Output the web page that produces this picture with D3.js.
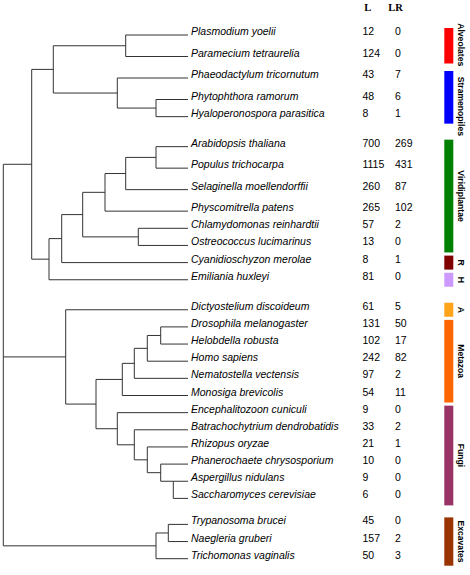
<!DOCTYPE html>
<html><head><meta charset="utf-8">
<script src="https://cdn.jsdelivr.net/npm/d3@7"></script>
<style>body{margin:0;background:#fff}svg{display:block}</style>
</head><body>
<svg id="chart" width="470" height="575"></svg>
<script>
// ---- data ----
const species = ["Plasmodium yoelii","Paramecium tetraurelia","Phaeodactylum tricornutum","Phytophthora ramorum","Hyaloperonospora parasitica","Arabidopsis thaliana","Populus trichocarpa","Selaginella moellendorffii","Physcomitrella patens","Chlamydomonas reinhardtii","Ostreococcus lucimarinus","Cyanidioschyzon merolae","Emiliania huxleyi","Dictyostelium discoideum","Drosophila melanogaster","Helobdella robusta","Homo sapiens","Nematostella vectensis","Monosiga brevicolis","Encephalitozoon cuniculi","Batrachochytrium dendrobatidis","Rhizopus oryzae","Phanerochaete chrysosporium","Aspergillus nidulans","Saccharomyces cerevisiae","Trypanosoma brucei","Naegleria gruberi","Trichomonas vaginalis"];
const countL  = [12,124,43,48,8,700,1115,260,265,57,13,8,81,61,131,102,242,97,54,9,33,21,10,9,6,45,157,50];
const countLR = [0,0,7,6,1,269,431,87,102,2,0,1,0,5,50,17,82,2,11,0,2,1,0,0,0,0,2,3];
const columnHeaders = ["L","LR"];

// tree: node ids, parents, branch lengths (leaves extend to aligned tips)
const nodeIds = ["R","A","B","Alv","Plasmodium yoelii","Paramecium tetraurelia","Stram","Phaeodactylum tricornutum","PH","Phytophthora ramorum","Hyaloperonospora parasitica","C","D","V","L1","L2","L3","Arabidopsis thaliana","Populus trichocarpa","Selaginella moellendorffii","Physcomitrella patens","Ch","Chlamydomonas reinhardtii","Ostreococcus lucimarinus","Cyanidioschyzon merolae","Emiliania huxleyi","Am","Dictyostelium discoideum","O","M1","M2","M3","M4","Drosophila melanogaster","Helobdella robusta","Homo sapiens","Nematostella vectensis","Monosiga brevicolis","F1","Encephalitozoon cuniculi","F2","Batrachochytrium dendrobatidis","F3","Rhizopus oryzae","F4","Phanerochaete chrysosporium","F5","Aspergillus nidulans","Saccharomyces cerevisiae","Ex","Ex2","Trypanosoma brucei","Naegleria gruberi","Trichomonas vaginalis"];
const nodeParents = ["","R","A","B","Alv","Alv","B","Stram","Stram","PH","PH","A","C","D","V","L1","L2","L3","L3","L2","L1","V","Ch","Ch","D","C","R","Am","Am","O","M1","M2","M3","M4","M4","M3","M2","M1","O","F1","F1","F2","F2","F3","F3","F4","F4","F5","F5","R","Ex","Ex2","Ex2","Ex"];
const branchLengths = [0,28.4,21.6,72.4,0,0,64,0,38.7,0,0,17.3,12.7,21,22.3,20.7,30.3,0,0,0,0,55.6,0,0,0,0,62.4,0,30.3,26.3,12,13,13.4,0,0,0,0,0,21.3,0,17,0,13,0,13.4,0,12.6,0,0,152.7,12.3,0,0,0];
const tipDepth = 184.7;

// clades
const groupNames = ["Alveolates","Stramenopiles","Viridiplantae","R","H","A","Metazoa","Fungi","Excavates"];
const groupFirst = ["Plasmodium yoelii","Phaeodactylum tricornutum","Arabidopsis thaliana","Cyanidioschyzon merolae","Emiliania huxleyi","Dictyostelium discoideum","Drosophila melanogaster","Encephalitozoon cuniculi","Trypanosoma brucei"];
const groupLast  = ["Paramecium tetraurelia","Hyaloperonospora parasitica","Ostreococcus lucimarinus","Cyanidioschyzon merolae","Emiliania huxleyi","Dictyostelium discoideum","Monosiga brevicolis","Saccharomyces cerevisiae","Trichomonas vaginalis"];
const groupColors = ["#ff0000","#0000ff","#008000","#800000","#cc99ff","#ffa31a","#ff6600","#993366","#993300"];

// ---- layout ----
const svg = d3.select("#chart");
const sans = "'Liberation Sans', Arial, sans-serif";
const stroke = "#333";

// row positions (layout spacing)
const rowStart = 35, rowStep = 17.15;
const specialSpacing = {1:21.5,2:21.5,3:21.5,5:30,6:21.5,7:21.5,8:21.5,13:30,25:26};
const rowY = [];
species.forEach((s,i)=>{ rowY.push(i===0 ? rowStart : rowY[i-1] + (specialSpacing[i] || rowStep)); });
const yOf = name => rowY[species.indexOf(name)];

const x = d3.scaleLinear().domain([0, tipDepth]).range([3.3, 188]);

const table = nodeIds.map((id,i)=>({id, parent: nodeParents[i] || null, len: branchLengths[i]}));
const root = d3.stratify().id(d=>d.id).parentId(d=>d.parent)(table);
root.eachBefore(n => { n.dep = n.parent ? n.parent.dep + n.data.len : 0; });
const anchoredFirst = new Set(["F5"]);
root.eachAfter(n => {
  if (n.children) {
    const f = n.children[0], l = n.children[n.children.length-1];
    n.y = anchoredFirst.has(n.id) ? f.y : (f.y + l.y) / 2;
    n.x = x(n.dep);
  } else {
    n.y = yOf(n.id);
    n.x = x(tipDepth);
  }
});

const g = svg.append("g");
g.selectAll("path.h").data(root.descendants().filter(n=>n.parent))
  .join("path").attr("class","h")
  .attr("d", n => `M${n.parent.x},${n.y}H${n.x}`)
  .attr("fill","none").attr("stroke",stroke).attr("stroke-width",1);
g.selectAll("path.v").data(root.descendants().filter(n=>n.children))
  .join("path").attr("class","v")
  .attr("d", n => `M${n.x},${n.children[0].y}V${n.children[n.children.length-1].y}`)
  .attr("fill","none").attr("stroke",stroke).attr("stroke-width",1);

// leaf labels
svg.append("g").selectAll("text").data(species).join("text")
  .attr("x", x(tipDepth) + 3).attr("y", d => yOf(d))
  .attr("font-family", sans).attr("font-size", 10.5).attr("font-style","italic")
  .attr("fill","#000").text(d=>d);

// count columns
const colX = [362.5, 395];
[countL, countLR].forEach((arr, c) => {
  svg.append("g").selectAll("text").data(arr).join("text")
    .attr("x", colX[c]).attr("y", (d,i) => rowY[i])
    .attr("font-family", sans).attr("font-size", 10.5).attr("fill","#000")
    .text(d=>d);
});
svg.append("g").selectAll("text").data(columnHeaders).join("text")
  .attr("x", (d,i)=> i===0 ? 364.3 : 388.3).attr("y", 11.2)
  .attr("font-family","'Liberation Serif', 'Times New Roman', serif")
  .attr("font-weight","bold").attr("font-size",10.5).text(d=>d);

// clade bars + rotated labels
const labelShift = {"Stramenopiles": 9, "Alveolates": -1};
const groups = groupNames.map((name,i)=>({name, y0: yOf(groupFirst[i]) - 7, y1: yOf(groupLast[i]) + 7, color: groupColors[i]}));
const gb = svg.append("g");
gb.selectAll("rect").data(groups).join("rect")
  .attr("x", 444.3).attr("width", 9)
  .attr("y", d=>d.y0).attr("height", d=>d.y1-d.y0)
  .attr("fill", d=>d.color);
gb.selectAll("text").data(groups).join("text")
  .attr("transform", d=>`translate(457.7,${(d.y0+d.y1)/2 + (labelShift[d.name]||0)}) rotate(90)`)
  .attr("text-anchor","middle")
  .attr("font-family", sans).attr("font-weight","bold").attr("font-size",8.6)
  .attr("fill","#000").text(d=>d.name);
</script>
</body></html>
